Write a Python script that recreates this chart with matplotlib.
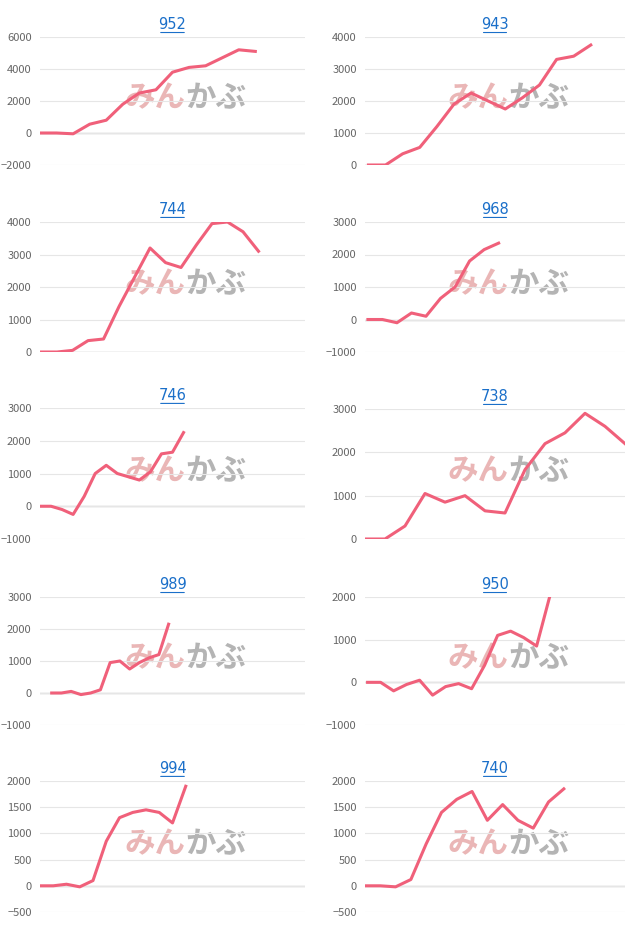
import matplotlib.pyplot as plt

plt.rcParams['font.family'] = ['Noto Sans CJK JP', 'DejaVu Sans']

titles = ['952', '943', '744', '968', '746', '738', '989', '950', '994', '740']
series = [
    [0, 0, -50, 550, 800, 1800, 2500, 2700, 3800, 4100, 4200, 4700, 5200, 5100],
    [0, 0, 350, 550, 1200, 1900, 2250, 2000, 1750, 2100, 2500, 3300, 3400, 3750],
    [0, 0, 50, 350, 400, 1400, 2300, 3200, 2750, 2600, 3300, 3950, 4000, 3700, 3100],
    [0, 0, -100, 200, 100, 650, 1000, 1800, 2150, 2350],
    [0, 0, -100, -250, 300, 1000, 1250, 1000, 900, 800, 1050, 1600, 1650, 2250],
    [0, 0, 300, 1050, 850, 1000, 650, 600, 1600, 2200, 2450, 2900, 2600, 2200],
    [0, 0, 50, -50, 0, 100, 950, 1000, 750, 950, 1100, 1200, 2150],
    [0, 0, -200, -50, 50, -300, -100, -30, -150, 400, 1100, 1200, 1050, 850, 2000],
    [0, 0, 30, -20, 100, 850, 1300, 1400, 1450, 1400, 1200, 1900],
    [0, 0, -20, 120, 800, 1400, 1650, 1800, 1250, 1550, 1250, 1100, 1600, 1850],
]
x_starts = [0, -0.2, -0.1, -0.2, 0, 0, -1.2, -0.2, 0, 0]
x_ends = [16, 15, 17, 17.7, 24, 13, 26, 19.8, 20, 17]
yticks = [
    [-2000, 0, 2000, 4000, 6000],
    [0, 1000, 2000, 3000, 4000],
    [0, 1000, 2000, 3000, 4000],
    [-1000, 0, 1000, 2000, 3000],
    [-1000, 0, 1000, 2000, 3000],
    [0, 1000, 2000, 3000],
    [-1000, 0, 1000, 2000, 3000],
    [-1000, 0, 1000, 2000],
    [-500, 0, 500, 1000, 1500, 2000],
    [-500, 0, 500, 1000, 1500, 2000],
]

W, H = 640, 931
fig = plt.figure(figsize=(W / 100, H / 100), dpi=100)
rows = [(37, 165), (222, 352), (408, 539), (597, 725), (781, 912)]
cols = [(40, 305), (365, 625)]
line_col = '#f0607a'

for i in range(10):
    r, c = divmod(i, 2)
    top, bot = rows[r]
    if i == 5:
        top = 409
    left, right = cols[c]
    ax = fig.add_axes([left / W, 1 - bot / H, (right - left) / W, (bot - top) / H])
    yt = yticks[i]
    ax.set_ylim(yt[0], yt[-1])
    ax.set_xlim(x_starts[i], x_ends[i])
    ax.set_yticks(yt)
    ax.set_xticks([])
    ax.tick_params(axis='y', length=0, labelsize=8, colors='#666666', pad=6)
    for s in ax.spines.values():
        s.set_visible(False)
    ax.grid(axis='y', color='#e6e6e6', lw=0.8)
    ax.axhline(0, color='#c4c4c4', lw=1, zorder=1)
    ax.text(0.55, 0.52, 'みん', transform=ax.transAxes, ha='right', va='center',
            fontsize=22, fontweight='bold', color='#eab6b6', zorder=0)
    ax.text(0.55, 0.52, 'かぶ', transform=ax.transAxes, ha='left', va='center',
            fontsize=22, fontweight='bold', color='#b4b4b4', zorder=0)
    ax.plot(range(len(series[i])), series[i], color=line_col, lw=2.2, zorder=3)
    ax.set_title(titles[i], color='#1a6fc9', fontsize=10.5, pad=6,
                 family=['DejaVu Sans'])
    # underline
    ax.annotate('', xy=(0.555, 1.035), xytext=(0.445, 1.035), xycoords='axes fraction',
                arrowprops=dict(arrowstyle='-', color='#1a6fc9', lw=0.8))

fig.savefig('out.png', dpi=100)
